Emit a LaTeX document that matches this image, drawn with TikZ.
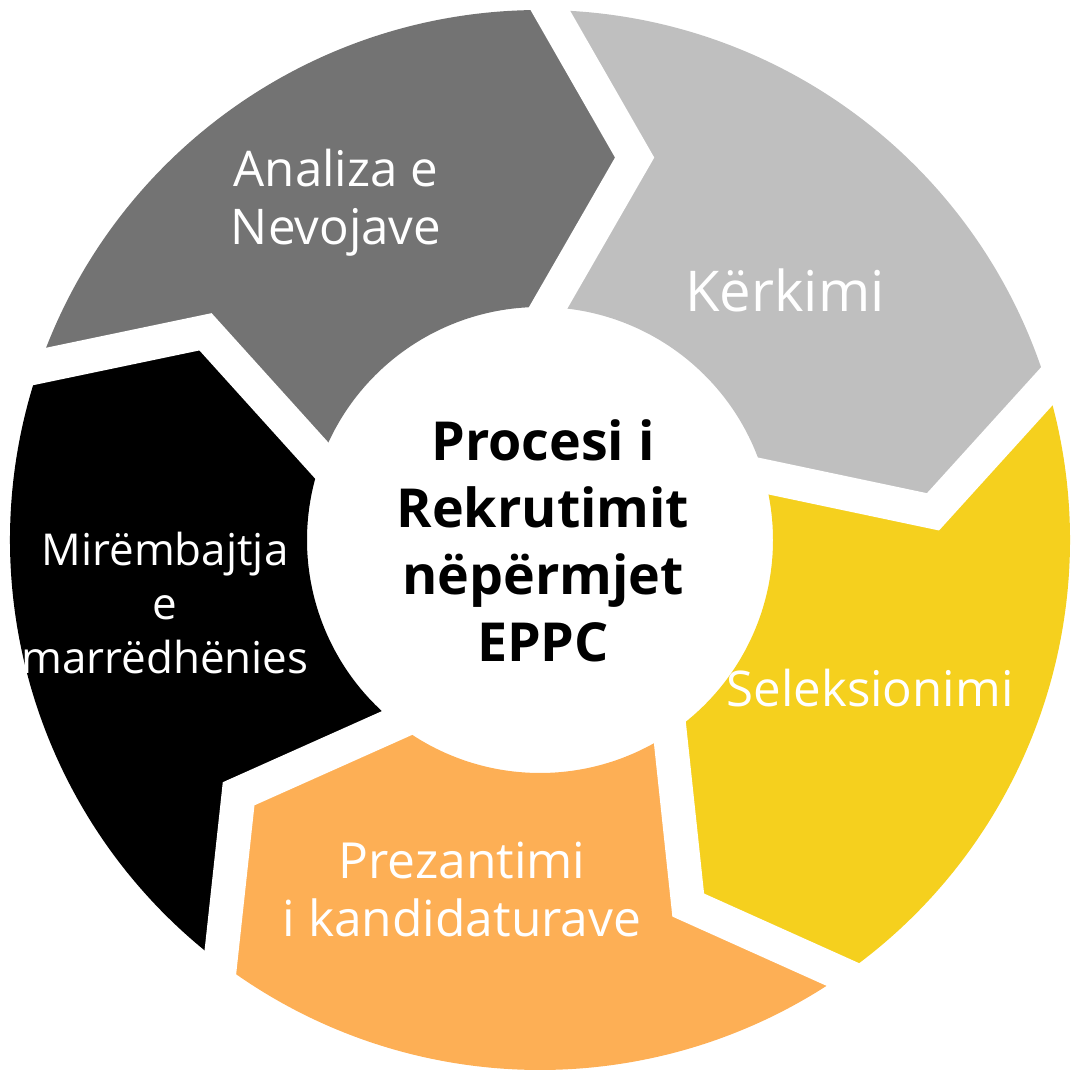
\documentclass[tikz,border=0pt]{standalone}
\usepackage{fontspec}
\setmainfont{Open Sans}
\usetikzlibrary{calc}
\definecolor{DarkGray}{RGB}{115,115,115}
\definecolor{LightGray}{RGB}{191,191,191}
\definecolor{Sun}{RGB}{245,208,30}
\definecolor{Apricot}{RGB}{253,175,85}
\tikzset{
  gapline/.style={draw=white,line width=3.4mm,line join=miter},
  phaselabel/.style={text=white,align=center,inner sep=0pt,font=\fontsize{14}{16.5}\selectfont},
  hublabel/.style={text=black,align=center,inner sep=0pt,font=\bfseries\fontsize{15.3}{19}\selectfont}
}
% one segment of the ring, starting at boundary angle #1
\newcommand{\ringpart}[2]{%
  \fill[#2] (#1:5.3) arc[start angle=#1,end angle=#1-72,radius=5.3]
    -- (#1-84.8:3.94) -- (#1-73:2.33)
    arc[start angle=#1-73,end angle=#1-1,radius=2.33]
    -- (#1-12.8:3.94) -- cycle;}

\begin{document}
\begin{tikzpicture}
\useasboundingbox (-5.4,-5.4) rectangle (5.4,5.4);

\ringpart{160.9}{DarkGray}
\ringpart{88.9}{LightGray}
\ringpart{16.9}{Sun}
\ringpart{-55.1}{Apricot}
\ringpart{-127.1}{black}

% white gaps between the parts
\foreach \b in {160.9,88.9,16.9,-55.1,-127.1}{
  \coordinate (o) at (\b:5.3);
  \coordinate (t) at (\b-12.8:3.94);
  \coordinate (i) at (\b-1:2.33);
  \draw[gapline] ($(t)!1.3!(o)$) -- (t) -- ($(t)!1.5!(i)$);
}

\node[phaselabel] (analiza) at (-2.04,3.37) {Analiza e\\Nevojave};
\node[phaselabel,font=\fontsize{16}{18}\selectfont] (kerkimi) at (2.45,2.50) {Kërkimi};
\node[phaselabel] (seleksionimi) at (3.30,-1.48) {Seleksionimi};
\node[phaselabel,font=\fontsize{14.15}{16.5}\selectfont] (prezantimi) at (-0.78,-3.49) {Prezantimi\\i kandidaturave};
\node[phaselabel,font=\fontsize{12.5}{15.4}\selectfont] (mirembajtja) at (-3.75,-0.63) {Mirëmbajtja\\e\\marrëdhënies};
\node[hublabel] (procesi) at (0.03,-0.01) {Procesi i\\Rekrutimit\\nëpërmjet\\EPPC};
\end{tikzpicture}
\end{document}
